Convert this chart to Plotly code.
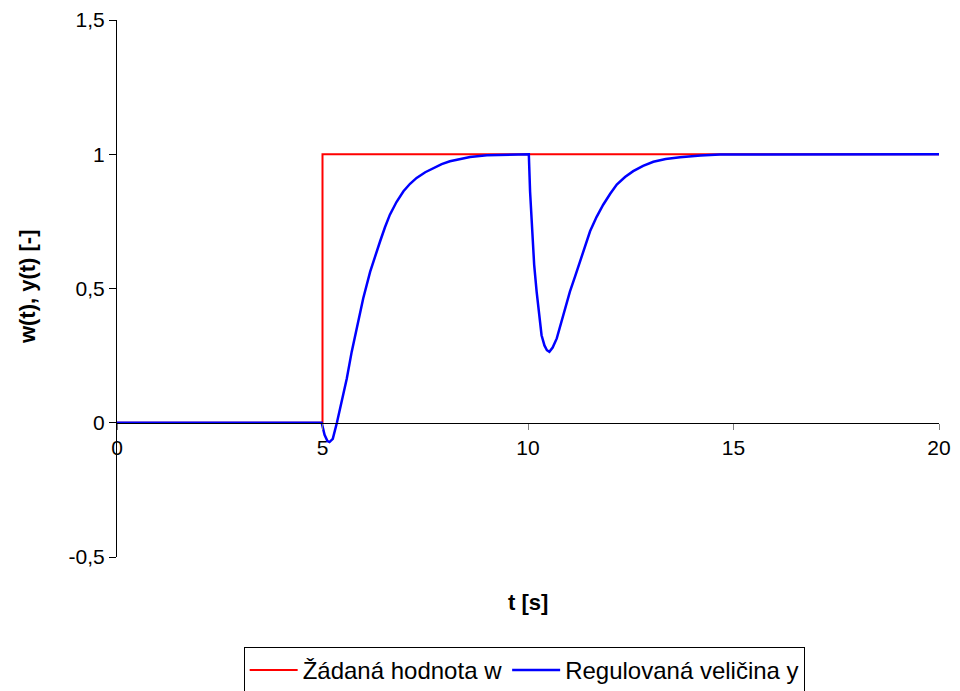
import plotly.graph_objects as go

# Setpoint w(t)
t_w = [0, 5, 5, 20]
w = [0, 0, 1, 1]

# Controlled variable y(t)
t_y = [0, 4.98, 5.05, 5.12, 5.17, 5.25, 5.35, 5.47, 5.59, 5.71, 5.83, 5.99, 6.16,
       6.28, 6.40, 6.52, 6.64, 6.80, 6.97, 7.13, 7.29, 7.50, 7.70, 7.90, 8.10, 8.35,
       8.59, 9.00, 9.48, 10.0,
       10.02, 10.05, 10.10, 10.15, 10.21, 10.27, 10.33, 10.40, 10.46, 10.52, 10.60, 10.70,
       10.86, 11.02, 11.15, 11.27, 11.39, 11.51, 11.67, 11.83, 12.00, 12.16, 12.36, 12.56,
       12.80, 13.05, 13.35, 13.70, 14.20, 14.67, 20]
y = [0, 0, -0.045, -0.068, -0.072, -0.060, 0.0, 0.077, 0.164, 0.264, 0.351, 0.463, 0.563,
     0.622, 0.675, 0.728, 0.775, 0.822, 0.862, 0.890, 0.912, 0.933, 0.949, 0.963, 0.974, 0.983,
     0.990, 0.996, 0.999, 1.0,
     1.0, 0.862, 0.706, 0.588, 0.488, 0.414, 0.326, 0.288, 0.270, 0.264, 0.280, 0.314,
     0.401, 0.488, 0.547, 0.601, 0.660, 0.713, 0.767, 0.812, 0.853, 0.887, 0.915, 0.937,
     0.957, 0.972, 0.982, 0.989, 0.995, 0.999, 1.0]

y_tickvals = [-0.5, 0, 0.5, 1, 1.5]
y_ticktext = ["-0,5", "0", "0,5", "1", "1,5"]
x_tickvals = [0, 5, 10, 15, 20]

font_family = "Liberation Sans, Arial, sans-serif"

fig = go.Figure()
fig.add_trace(go.Scatter(x=t_w, y=w, mode="lines", name="Žádaná hodnota w",
                         line=dict(color="#FF0000", width=2)))
fig.add_trace(go.Scatter(x=t_y, y=y, mode="lines", name="Regulovaná veličina y",
                         line=dict(color="#0000FF", width=2.5)))

fig.update_layout(
    width=960, height=691,
    margin=dict(l=117, r=21, t=20, b=134, autoexpand=False),
    plot_bgcolor="white", paper_bgcolor="white",
    font=dict(family=font_family, size=21, color="black"),
    showlegend=True,
    legend=dict(orientation="h", xref="container", yref="container",
                x=0.546, xanchor="center", y=0.0637, yanchor="top",
                bordercolor="black", borderwidth=1, font=dict(size=24),
                tracegroupgap=0, itemwidth=48),
    xaxis=dict(range=[0, 20], tickvals=x_tickvals, showgrid=False, zeroline=False,
               showline=True, linecolor="black", linewidth=1,
               ticks="outside", ticklen=6, tickcolor="#808080",
               anchor="free", position=0.25, tickfont=dict(size=21), automargin=False),
    yaxis=dict(range=[-0.5, 1.5], tickvals=y_tickvals, ticktext=y_ticktext,
               showgrid=False, zeroline=False, showline=True, linecolor="black",
               linewidth=1, ticks="outside", ticklen=7, tickcolor="black",
               tickfont=dict(size=21), automargin=False),
    annotations=[
        dict(text="<b>t [s]</b>", xref="paper", yref="paper", x=0.4995, y=-0.084,
             xanchor="center", yanchor="middle", showarrow=False, font=dict(size=22)),
        dict(text="<b>w(t), y(t) [-]</b>", xref="paper", yref="paper", x=-0.108, y=0.503,
             xanchor="center", yanchor="middle", textangle=-90, showarrow=False,
             font=dict(size=22)),
    ],
)

fig.write_html("out.html")
